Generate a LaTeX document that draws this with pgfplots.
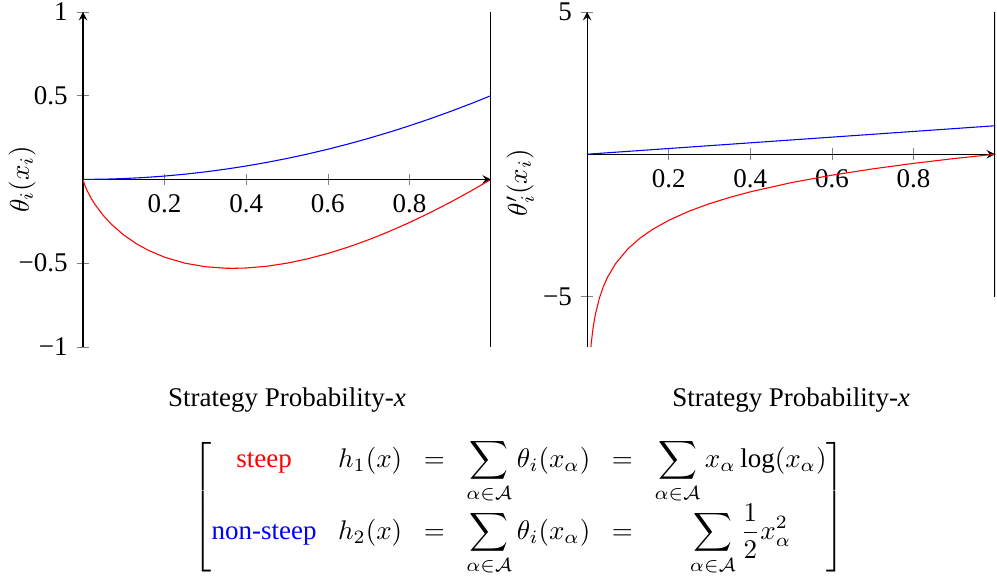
\documentclass[border=0pt]{standalone}
\usepackage{amsmath}
\usepackage{fontspec}
\setmainfont{Liberation Serif}
\usepackage{pgfplots}
\pgfplotsset{compat=1.18}
\begin{document}
\begin{tikzpicture}
\path[use as bounding box] (-30.74pt,-87.0pt) rectangle (338.5pt,128.5pt);
\pgfplotsset{
  myax/.style={
    scale only axis, width=151.1pt, height=124.1pt,
    axis lines=middle, xmin=0, xmax=1,
    xtick={0.2,0.4,0.6,0.8},
    xticklabels={0.2,0.4,0.6,0.8},
    tick style={gray},
    xlabel={Strategy Probability-\textit{x}},
    xlabel style={at={(axis description cs:0.5,0)}, anchor=center, yshift=-19.6pt},
  }
}
\begin{axis}[myax, at={(0pt,0pt)}, anchor=south west,
  ymin=-1, ymax=1, ytick={-1,-0.5,0.5,1},
  yticklabels={−1,−0.5,0.5,1},
  ylabel={$\theta_i(x_i)$},
  ylabel style={at={(axis description cs:-0.1495,0.5)}, rotate=90, anchor=center},
]
\addplot[red] coordinates {
(0,0) (0.001,-0.00997) (0.002,-0.0179) (0.005,-0.0382) (0.01,-0.0664) (0.02,-0.1129)
(0.03,-0.1518) (0.05,-0.2161) (0.07,-0.2686) (0.1,-0.3322) (0.13,-0.3826)
(0.16,-0.4230) (0.2,-0.4644) (0.25,-0.5) (0.3,-0.5211) (0.35,-0.5301)
(0.3679,-0.5307) (0.4,-0.5288) (0.45,-0.5184) (0.5,-0.5) (0.55,-0.4744)
(0.6,-0.4422) (0.65,-0.4040) (0.7,-0.3602) (0.75,-0.3113) (0.8,-0.2575)
(0.85,-0.1993) (0.9,-0.1368) (0.95,-0.0703) (1,0)
};
\addplot[blue] coordinates {
(0,0) (0.05,0.00125) (0.1,0.005) (0.15,0.01125) (0.2,0.02) (0.25,0.03125)
(0.3,0.045) (0.35,0.06125) (0.4,0.08) (0.45,0.10125) (0.5,0.125)
(0.55,0.15125) (0.6,0.18) (0.65,0.21125) (0.7,0.245) (0.75,0.28125)
(0.8,0.32) (0.85,0.36125) (0.9,0.405) (0.95,0.45125) (1,0.5)
};
\addplot[black, semithick] coordinates {(1,1) (1,-1)};
\end{axis}
\begin{axis}[myax, at={(186.7pt,0pt)}, anchor=south west,
  ymin=-6.77, ymax=5, ytick={-5,5},
  yticklabels={−5,5},
  ylabel={$\theta_i'(x_i)$},
  ylabel style={at={(axis description cs:-0.164,0.49)}, rotate=90, anchor=center},
]
\addplot[red] coordinates {
(0.005,-7.644) (0.01,-6.644) (0.015,-6.059) (0.02,-5.644) (0.03,-5.059)
(0.04,-4.644) (0.05,-4.322) (0.07,-3.837) (0.1,-3.322) (0.13,-2.943)
(0.16,-2.644) (0.2,-2.322) (0.25,-2) (0.3,-1.737) (0.35,-1.515)
(0.4,-1.322) (0.5,-1) (0.6,-0.737) (0.7,-0.515) (0.8,-0.322)
(0.9,-0.152) (1,0)
};
\addplot[blue] coordinates {(0,0) (1,1)};
\addplot[black, semithick] coordinates {(1,5) (1,-5)};
\end{axis}
\node at (161.5pt,-59.5pt) {\setlength{\arraycolsep}{4pt}$\begin{bmatrix}
\text{\color{red}steep} & h_1(x) & = & \displaystyle\sum_{\alpha\in\mathcal{A}}\theta_i(x_\alpha) & = & \displaystyle\sum_{\alpha\in\mathcal{A}} x_\alpha\log(x_\alpha)\\[1pt]
\text{\color{blue}non-steep} & h_2(x) & = & \displaystyle\sum_{\alpha\in\mathcal{A}}\theta_i(x_\alpha) & = & \displaystyle\sum_{\alpha\in\mathcal{A}} \frac{1}{2}x_\alpha^2
\end{bmatrix}$};
\end{tikzpicture}
\end{document}
